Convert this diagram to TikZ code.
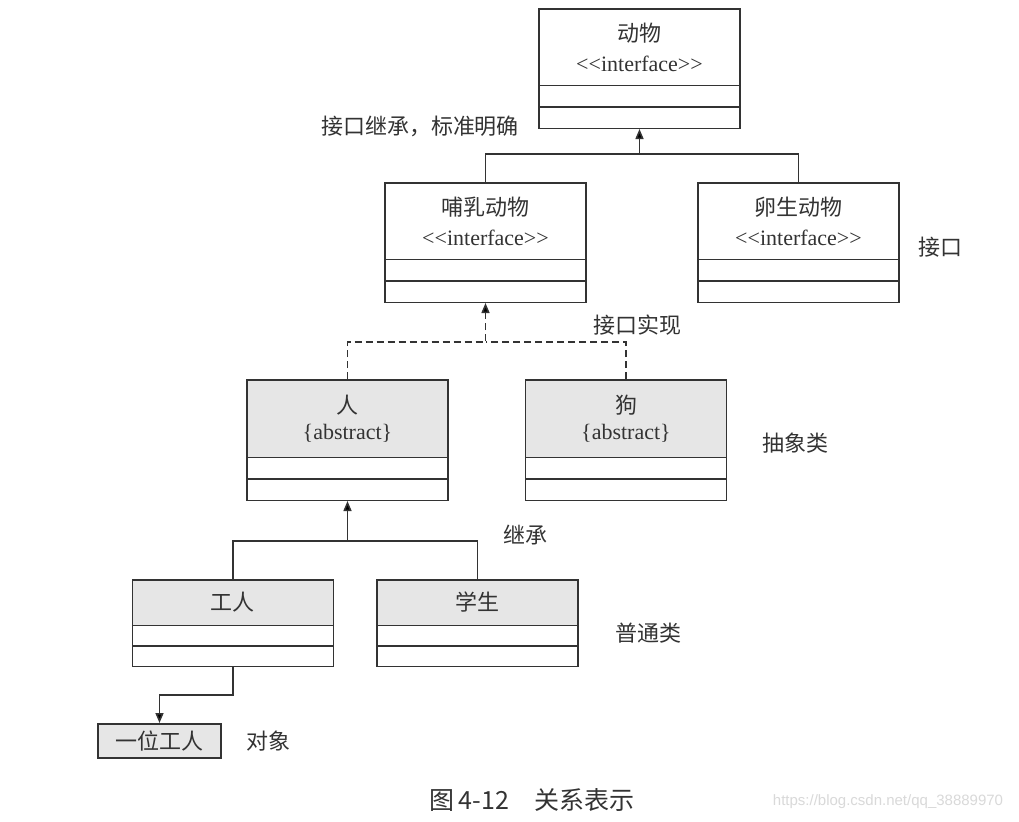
\documentclass[tikz,border=0pt]{standalone}
\usepackage{fontspec}
\setmainfont{Noto Sans CJK SC}
\newfontfamily\latinserif{Liberation Serif}
\newfontfamily\latinsans{Liberation Sans}
\usetikzlibrary{calc}
\usetikzlibrary{shapes}
\usetikzlibrary{arrows.meta}
\definecolor{linec}{HTML}{333333}
\definecolor{headfill}{HTML}{E6E6E6}
\newcommand{\boxw}{100.5pt}
\newcommand{\stereo}[1]{{\latinserif <\kern0pt<#1>\kern0pt>}}
\newcommand{\classhead}[3]{\parbox[c][#1][c]{\boxw}{\centering\fontsize{11}{#2}\selectfont #3}}

\begin{document}
\begin{tikzpicture}[x=0.5pt,y=-0.5pt,
  class/.style={rectangle split,
                rectangle split parts=3,
                rectangle split part fill={#1,white,white},
                draw=linec, line width=0.75pt,
                inner sep=0pt, anchor=north, text=linec
  },
  class/.default=white,
  line/.style={draw=linec, line width=0.75pt},
  conn/.style={line, -{Triangle[length=5pt,width=4pt]}},
  real/.style={dash pattern=on 3.5pt off 2pt},
  note/.style={text=linec, font=\fontsize{11}{13}\selectfont}
]
\useasboundingbox [fill=white] (0,0) rectangle (1019,821);

% interfaces
\node [class] (Animal) at (639.5,8) {
   \classhead{37.5pt}{15pt}{动物\\\stereo{interface}}
   \nodepart{two}\rule{0pt}{10pt}
   \nodepart{three}\rule{0pt}{10pt}
};
\node [class] (Mammal) at (485.5,182) {
   \classhead{37.5pt}{15pt}{哺乳动物\\\stereo{interface}}
   \nodepart{two}\rule{0pt}{10pt}
   \nodepart{three}\rule{0pt}{10pt}
};
\node [class] (Ovip) at (798.5,182) {
   \classhead{37.5pt}{15pt}{卵生动物\\\stereo{interface}}
   \nodepart{two}\rule{0pt}{10pt}
   \nodepart{three}\rule{0pt}{10pt}
};

% abstract classes
\node [class=headfill] (Human) at (347.5,379) {
   \classhead{38pt}{13pt}{人\\{\latinserif\{abstract\}}}
   \nodepart{two}\rule{0pt}{10pt}
   \nodepart{three}\rule{0pt}{10pt}
};
\node [class=headfill] (Dog) at (626,379) {
   \classhead{38pt}{13pt}{狗\\{\latinserif\{abstract\}}}
   \nodepart{two}\rule{0pt}{10pt}
   \nodepart{three}\rule{0pt}{10pt}
};

% ordinary classes
\node [class=headfill] (Worker) at (233,579) {
   \classhead{22pt}{13pt}{工人}
   \nodepart{two}\rule{0pt}{9.5pt}
   \nodepart{three}\rule{0pt}{9.5pt}
};
\node [class=headfill] (Student) at (477.5,579) {
   \classhead{22pt}{13pt}{学生}
   \nodepart{two}\rule{0pt}{9.5pt}
   \nodepart{three}\rule{0pt}{9.5pt}
};

% object
\node [line, fill=headfill, note, inner sep=0pt, anchor=north,
       minimum width=61.5pt, minimum height=17pt] (OneWorker)
   at (159.5,723) {一位工人};

% connectors
\coordinate (j1) at ($(Animal.south)+(0,25)$);
\draw [conn] (Mammal.north) |- (j1) -- (Animal.south);
\draw [line] (Ovip.north) |- (j1);

\coordinate (j2) at ($(Mammal.south)+(0,39)$);
\draw [conn, real] (Human.north) |- (j2) -- (Mammal.south);
\draw [line, real] (Dog.north) |- (j2);

\coordinate (j3) at ($(Human.south)+(0,40)$);
\draw [conn] (Worker.north) |- (j3) -- (Human.south);
\draw [line] (Student.north) |- (j3);

\draw [conn] (Worker.south) -- ++(0,28) -| (OneWorker.north);

% labels
\node [note] (lblIfaceInh) at (420,126) {接口继承，标准明确};
\node [note] (lblIface) at (940,247) {接口};
\node [note] (lblReal) at (637,325) {接口实现};
\node [note] (lblAbstract) at (795,443) {抽象类};
\node [note] (lblInh) at (525,535) {继承};
\node [note] (lblOrdinary) at (648,633) {普通类};
\node [note] (lblObject) at (268,741) {对象};

\node [text=linec, font=\fontsize{12.5}{14}\selectfont] (caption)
   at (532,800) {图\,4-12\quad 关系表示};
\node [text=black!15, font=\latinsans\fontsize{7.5}{9}\selectfont] (mark)
   at (888,802) {https://blog.csdn.net/qq\_38889970};

\end{tikzpicture}
\end{document}
